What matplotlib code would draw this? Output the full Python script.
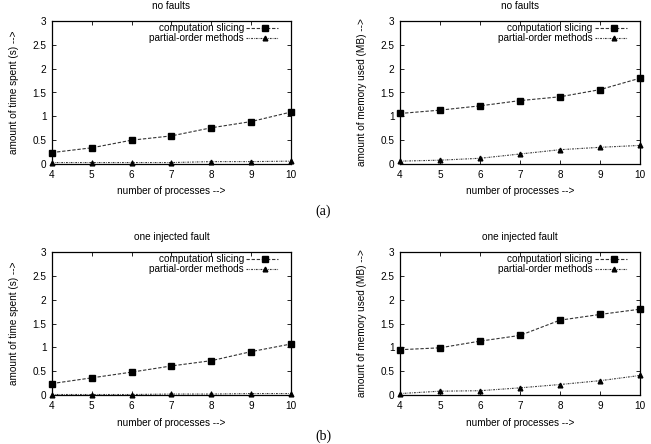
import matplotlib
matplotlib.use("Agg")
import matplotlib.pyplot as plt
from matplotlib.lines import Line2D

plt.rcParams["font.family"] = ["Liberation Sans", "DejaVu Sans"]
plt.rcParams["font.size"] = 7.2

# data
processes = [4, 5, 6, 7, 8, 9, 10]

time_nofault_slicing = [0.24, 0.34, 0.50, 0.59, 0.76, 0.89, 1.09]
time_nofault_po = [0.03, 0.03, 0.03, 0.03, 0.05, 0.05, 0.06]
mem_nofault_slicing = [1.06, 1.13, 1.22, 1.33, 1.41, 1.56, 1.80]
mem_nofault_po = [0.06, 0.08, 0.12, 0.21, 0.30, 0.35, 0.39]

time_fault_slicing = [0.24, 0.36, 0.48, 0.61, 0.72, 0.91, 1.07]
time_fault_po = [0.01, 0.01, 0.01, 0.02, 0.02, 0.03, 0.03]
mem_fault_slicing = [0.95, 0.99, 1.13, 1.25, 1.57, 1.69, 1.80]
mem_fault_po = [0.03, 0.08, 0.09, 0.15, 0.22, 0.30, 0.41]

y_ticks = [0, 0.5, 1, 1.5, 2, 2.5, 3]
y_tick_labels = ["0", "0.5", "1", "1.5", "2", "2.5", "3"]

W, H = 651, 444
LINE_COL = "#333333"
SLICE_DASH = (3.0, 1.6)
PO_DASH = (1.6, 1.0, 0.6, 1.0)


def add_panel(fig, left, top, right, bottom, title, ylabel, slicing, po):
    ax = fig.add_axes([left / W, 1 - bottom / H, (right - left) / W, (bottom - top) / H])
    ax.plot(processes, slicing, color=LINE_COL, lw=0.8, dashes=SLICE_DASH,
            marker="s", ms=4.8, mfc="black", mec="black", clip_on=False, zorder=3)
    ax.plot(processes, po, color=LINE_COL, lw=0.8, dashes=PO_DASH,
            marker="^", ms=3.4, mfc="black", mec="black", clip_on=False, zorder=3)
    ax.set_xlim(4, 10)
    ax.set_ylim(0, 3)
    ax.set_xticks(processes)
    ax.set_yticks(y_ticks)
    ax.set_yticklabels(y_tick_labels)
    ax.tick_params(direction="in", length=3, width=0.6, top=True, right=True, pad=4)
    for sp in ax.spines.values():
        sp.set_linewidth(0.9)
    ax.set_title(title, fontsize=7.2, pad=8.5)
    ax.set_xlabel("number of processes -->", labelpad=5)
    ax.set_ylabel(ylabel, labelpad=10)

    # gnuplot-style key: right-aligned text, sample line to the right
    rows = [("computation slicing", "s", 4.8, SLICE_DASH, 0.949),
            ("partial-order methods", "^", 3.4, PO_DASH, 0.879)]
    for label, mk, ms, dash, yy in rows:
        ax.text(0.803, yy, label, transform=ax.transAxes, ha="right", va="center")
        ax.add_line(Line2D([0.812, 0.946], [yy, yy], transform=ax.transAxes,
                           color=LINE_COL, lw=0.8, dashes=dash))
        ax.add_line(Line2D([0.89], [yy], transform=ax.transAxes, marker=mk,
                           ms=ms, mfc="black", mec="black", linestyle="None"))
    return ax


fig = plt.figure(figsize=(W / 100, H / 100), dpi=100)

add_panel(fig, 52, 21, 291, 164, "no faults", "amount of time spent (s) -->",
          time_nofault_slicing, time_nofault_po)
add_panel(fig, 400, 21, 640, 164, "no faults", "amount of memory used (MB) -->",
          mem_nofault_slicing, mem_nofault_po)
add_panel(fig, 52, 252, 291, 395, "one injected fault", "amount of time spent (s) -->",
          time_fault_slicing, time_fault_po)
add_panel(fig, 400, 252, 640, 395, "one injected fault", "amount of memory used (MB) -->",
          mem_fault_slicing, mem_fault_po)

fig.text(323 / W, 1 - 211 / H, "(a)", ha="center", va="center",
         family=["Liberation Serif", "DejaVu Serif"], fontsize=10)
fig.text(323 / W, 1.5 / H, "(b)", ha="center", va="bottom",
         family=["Liberation Serif", "DejaVu Serif"], fontsize=10)

fig.savefig("out.png", dpi=100)
